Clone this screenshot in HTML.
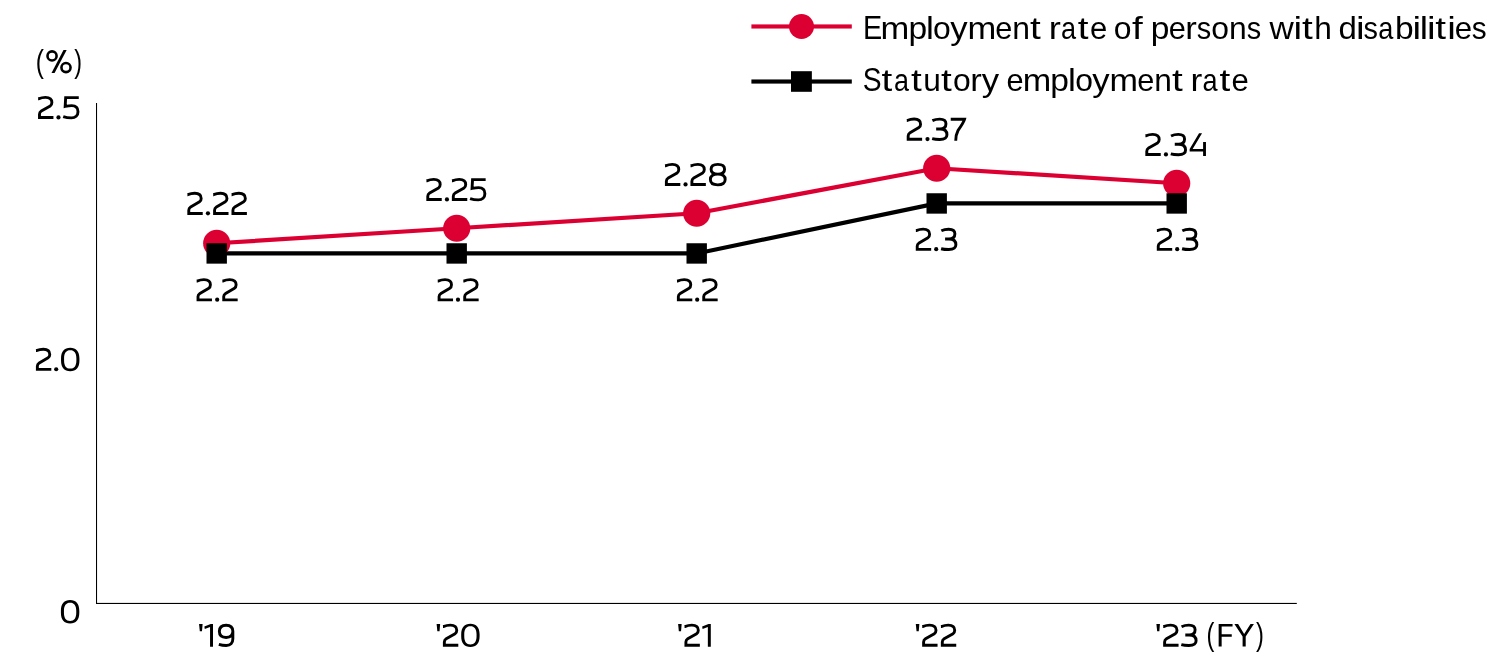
<!DOCTYPE html>
<html>
<head>
<meta charset="utf-8">
<title>Employment rate of persons with disabilities</title>
<style>
  html, body { margin: 0; padding: 0; background: #ffffff; }
  body { width: 1500px; height: 670px; overflow: hidden; }
  svg { display: block; will-change: transform; }
  text { font-family: "Liberation Sans", sans-serif; fill: #000000; }
  .num text { font-size: 32.0px; }
  .leg text { font-size: 32.0px; }
  #labels-text text { fill: none; stroke: none; }
</style>
</head>
<body>
<svg width="1500" height="670" viewBox="0 0 1500 670" role="img" aria-label="Line chart: employment rate of persons with disabilities versus statutory employment rate, FY2019-FY2023">
  <rect x="0" y="0" width="1500" height="670" fill="#ffffff"/>

  <defs>
    <g id="g2"><g transform="translate(0.25,0)"><path d="M0.1,-20.2 h0.3 C2.7,-21.15 4.9,-21.65 7.4,-21.65 C11.6,-21.65 13.85,-19.7 13.85,-16.45 C13.85,-14.7 13.3,-13.75 12.2,-13.1 L3.3,-7.9 C2,-7.1 1.45,-6.2 1.45,-4.7 L1.45,-1.45 L15.4,-1.45" fill="none" stroke="#000000" stroke-width="2.9" stroke-linejoin="miter" stroke-linecap="butt"/></g></g>
    <g id="g0"><g><path d="M0,-12.4 C0,-19.6 3.3,-23.1 9.2,-23.1 C15.1,-23.1 18.4,-19.6 18.4,-12.4 V-10.4 C18.4,-3.2 15.1,0.3 9.2,0.3 C3.3,0.3 0,-3.2 0,-10.4 Z M3.05,-12.4 V-10.4 C3.05,-4.9 5.2,-2.25 9.2,-2.25 C13.2,-2.25 15.35,-4.9 15.35,-10.4 V-12.4 C15.35,-17.9 13.2,-20.55 9.2,-20.55 C5.2,-20.55 3.05,-17.9 3.05,-12.4 Z" fill="#000000" fill-rule="evenodd"/></g></g>
    <g id="g5"><g><path d="M15.67,-21.4 L2.56,-21.4 L2.07,-12.6 C4.5,-13.1 6.5,-13.4 8.6,-13.4 C12.8,-13.4 14.9,-10.8 14.9,-7.3 C14.9,-3.4 12.3,-1.1 8.3,-1.1 C5.2,-1.1 2.5,-1.6 0.1,-2.45" fill="none" stroke="#000000" stroke-width="2.9" stroke-linejoin="miter" stroke-linecap="butt"/></g></g>
    <g id="g3"><g transform="translate(0.2,0)"><path d="M0.35,-20.05 C2.5,-21.1 5,-21.62 7.7,-21.62 C11.6,-21.62 13.9,-19.95 13.9,-17 C13.9,-13.6 11.5,-11.75 8,-11.75 L4.1,-11.75 M8,-11.75 C12.4,-11.75 14.9,-9.5 14.9,-5.95 C14.9,-2.75 12,-1.25 7.7,-1.25 C5,-1.25 2.3,-1.45 0.1,-2.05" fill="none" stroke="#000000" stroke-width="2.9" stroke-linejoin="miter" stroke-linecap="butt"/></g></g>
    <g id="g7"><g><path d="M0,-21.4 L13.85,-21.4 C13.3,-19 9,-12.6 7.2,-10 C5.77,-7.36 5,-3.5 5,0" fill="none" stroke="#000000" stroke-width="2.9" stroke-linejoin="miter" stroke-linecap="butt"/></g></g>
    <g id="g4"><g><path d="M0.15,-6.9 L9.55,-22.75 L12.55,-22.75 L3.15,-6.9 L13.6,-6.9 L13.6,-13.9 L16.45,-13.9 L16.45,0 L13.6,0 L13.6,-4.5 L0.15,-4.5 Z" fill="#000000"/></g></g>
    <g id="g8"><g><path d="M9,-21.65 C13.39,-21.65 15.75,-19.94 15.75,-16.75 C15.75,-13.56 13.39,-11.85 9,-11.85 C4.61,-11.85 2.25,-13.56 2.25,-16.75 C2.25,-19.94 4.61,-21.65 9,-21.65 Z M8.95,-11.85 C13.76,-11.85 16.35,-9.98 16.35,-6.5 C16.35,-3.02 13.76,-1.15 8.95,-1.15 C4.14,-1.15 1.55,-3.02 1.55,-6.5 C1.55,-9.98 4.14,-11.85 8.95,-11.85 Z" fill="none" stroke="#000000" stroke-width="2.9" stroke-linejoin="miter" stroke-linecap="butt"/></g></g>
    <g id="g9"><g><path d="M15,-15.42 C15,-11.38 12.71,-9.3 8.25,-9.3 C3.79,-9.3 1.5,-11.38 1.5,-15.42 C1.5,-19.46 3.79,-21.55 8.25,-21.55 C12.71,-21.55 15,-19.46 15,-15.42 L15,-8 C15,-3.4 12.6,-1.3 8.4,-1.3 C5.6,-1.3 3.2,-1.75 1,-2.45" fill="none" stroke="#000000" stroke-width="2.9" stroke-linejoin="miter" stroke-linecap="butt"/></g></g>
    <g id="gdot"><g><circle cx="0" cy="-1.6" r="2.1" fill="#000000"/></g></g>
  </defs>

  <!-- axes -->
  <g id="axes" fill="#000000">
    <rect x="96" y="103" width="1.05" height="500.95"/>
    <rect x="96" y="602.9" width="1200.8" height="1.1"/>
  </g>

  <!-- series lines -->
  <g id="lines" fill="none" stroke-linejoin="miter" stroke-linecap="butt">
    <polyline points="216.7,243.25 456.7,228.25 696.7,213.25 936.7,168.25 1176.7,183.25" stroke="#dc0032" stroke-width="4.2"/>
    <polyline points="216.7,253.45 456.7,253.45 696.7,253.45 936.7,203.45 1176.7,203.45" stroke="#000000" stroke-width="4.2"/>
  </g>

  <!-- markers -->
  <g id="markers">
    <circle cx="216.7" cy="243.25" r="13.6" fill="#dc0032"/>
    <circle cx="456.7" cy="228.25" r="13.6" fill="#dc0032"/>
    <circle cx="696.7" cy="213.25" r="13.6" fill="#dc0032"/>
    <circle cx="936.7" cy="168.25" r="13.6" fill="#dc0032"/>
    <circle cx="1176.7" cy="183.25" r="13.6" fill="#dc0032"/>
    <rect x="206.50" y="243.25" width="20.4" height="20.4" fill="#000000"/>
    <rect x="446.50" y="243.25" width="20.4" height="20.4" fill="#000000"/>
    <rect x="686.50" y="243.25" width="20.4" height="20.4" fill="#000000"/>
    <rect x="926.50" y="193.25" width="20.4" height="20.4" fill="#000000"/>
    <rect x="1166.50" y="193.25" width="20.4" height="20.4" fill="#000000"/>
  </g>

  <!-- numeric labels (axis ticks, years, data values) -->
  <g id="numbers" class="num">
    <text id="t_pct_l" transform="matrix(0.7636 0 0 0.9866 35.87 71.74)">(</text>
    <text id="t_pct_r" transform="matrix(0.7294 0 0 0.9866 74.32 71.74)">)</text>
    <text id="t_fy_l" transform="matrix(0.7394 0 0 0.9983 1206.52 645.41)">(</text>
    <text id="t_fy_r" transform="matrix(0.7412 0 0 0.9983 1255.91 645.41)">)</text>
  </g>

  <!-- hand-drawn glyphs: apostrophes and the footless digit 1 -->
  <g id="glyphs">
    <polygon points="199.05,624.05 202.60,624.05 202.00,631.15 199.80,631.15" fill="#000000"/>
    <polygon points="436.60,624.05 440.15,624.05 439.55,631.15 437.35,631.15" fill="#000000"/>
    <polygon points="678.10,624.05 681.65,624.05 681.05,631.15 678.85,631.15" fill="#000000"/>
    <polygon points="915.80,624.05 919.35,624.05 918.75,631.15 916.55,631.15" fill="#000000"/>
    <polygon points="1156.40,624.05 1159.95,624.05 1159.35,631.15 1157.15,631.15" fill="#000000"/>
    <polygon points="213.00,624.00 213.00,646.80 210.05,646.80 210.05,626.90 204.80,628.90 204.35,626.40 210.70,624.00" fill="#000000"/>
    <polygon points="710.80,624.00 710.80,646.80 707.85,646.80 707.85,626.90 702.60,628.90 702.15,626.40 708.50,624.00" fill="#000000"/>
    <circle cx="52.04" cy="55.89" r="4.55" fill="none" stroke="#000000" stroke-width="2.6"/>
    <circle cx="65.99" cy="67.61" r="4.55" fill="none" stroke="#000000" stroke-width="2.6"/>
    <polygon points="63.5,50.03 66.68,50.03 54.58,73.03 51.5,73.03" fill="#000000"/>
    <polygon points="1218.65,624.1 1232.55,624.1 1232.55,626.6 1221.65,626.6 1221.65,634.25 1231.75,634.25 1231.75,636.75 1221.65,636.75 1221.65,646.6 1218.65,646.6" fill="#000000"/>
    <polygon points="1234.4,624.1 1238.1,624.1 1244.15,634.1 1250.5,624.1 1253.9,624.1 1245.7,636.6 1245.7,646.6 1242.6,646.6 1242.6,636.6" fill="#000000"/>
  </g>

  <!-- digit glyph instances -->
  <g id="digits">
    <!-- y-axis 2.5 -->
    <use href="#g2" x="37.78" y="119.00"/>
    <use href="#gdot" x="58.47" y="119.00"/>
    <use href="#g5" x="63.10" y="119.00"/>
    <!-- y-axis 2.0 -->
    <use href="#g2" x="35.66" y="370.85"/>
    <use href="#gdot" x="56.20" y="370.85"/>
    <use href="#g0" x="61.03" y="370.85"/>
    <!-- y-axis 0 -->
    <use href="#g0" x="60.90" y="623.20"/>
    <!-- '19 -->
    <use href="#g9" x="217.85" y="646.75"/>
    <!-- '20 -->
    <use href="#g2" x="442.65" y="646.75"/>
    <use href="#g0" x="461.20" y="646.75"/>
    <!-- '21 -->
    <use href="#g2" x="684.20" y="646.75"/>
    <!-- '22 -->
    <use href="#g2" x="921.90" y="646.75"/>
    <use href="#g2" x="940.60" y="646.75"/>
    <!-- '23 -->
    <use href="#g2" x="1162.90" y="646.75"/>
    <use href="#g3" x="1181.00" y="646.75"/>
    <!-- 2.22 -->
    <use href="#g2" x="187.08" y="214.90"/>
    <use href="#gdot" x="207.94" y="214.90"/>
    <use href="#g2" x="212.86" y="214.90"/>
    <use href="#g2" x="231.24" y="214.90"/>
    <!-- 2.25 -->
    <use href="#g2" x="426.08" y="201.00"/>
    <use href="#gdot" x="446.94" y="201.00"/>
    <use href="#g2" x="451.61" y="201.00"/>
    <use href="#g5" x="469.98" y="201.00"/>
    <!-- 2.28 -->
    <use href="#g2" x="664.67" y="186.00"/>
    <use href="#gdot" x="685.53" y="186.00"/>
    <use href="#g2" x="690.20" y="186.00"/>
    <use href="#g8" x="708.83" y="186.00"/>
    <!-- 2.37 -->
    <use href="#g2" x="906.47" y="140.70"/>
    <use href="#gdot" x="927.48" y="140.70"/>
    <use href="#g3" x="931.85" y="140.70"/>
    <use href="#g7" x="950.73" y="140.70"/>
    <!-- 2.34 -->
    <use href="#g2" x="1145.08" y="156.00"/>
    <use href="#gdot" x="1165.94" y="156.00"/>
    <use href="#g3" x="1170.46" y="156.00"/>
    <use href="#g4" x="1189.50" y="156.00"/>
    <!-- 2.2 '19 -->
    <use href="#g2" x="196.31" y="301.30"/>
    <use href="#gdot" x="217.19" y="301.30"/>
    <use href="#g2" x="222.02" y="301.30"/>
    <!-- 2.2 '20 -->
    <use href="#g2" x="437.39" y="301.30"/>
    <use href="#gdot" x="457.98" y="301.30"/>
    <use href="#g2" x="463.00" y="301.30"/>
    <!-- 2.2 '21 -->
    <use href="#g2" x="676.65" y="301.30"/>
    <use href="#gdot" x="697.19" y="301.30"/>
    <use href="#g2" x="702.02" y="301.30"/>
    <!-- 2.3 '22 -->
    <use href="#g2" x="915.52" y="250.80"/>
    <use href="#gdot" x="936.20" y="250.80"/>
    <use href="#g3" x="940.79" y="250.80"/>
    <!-- 2.3 '23 -->
    <use href="#g2" x="1156.55" y="250.80"/>
    <use href="#gdot" x="1177.19" y="250.80"/>
    <use href="#g3" x="1181.77" y="250.80"/>
  </g>

  <!-- readable text layer (not painted: the visible glyphs above/below are positioned to the pixel) -->
  <g id="labels-text" class="num" fill="none" style="fill:none" aria-hidden="false">
    <text x="36.3" y="119.0">2.5</text>
    <text x="34.2" y="370.9">2.0</text>
    <text x="59.4" y="623.2">0</text>
    <text x="198.0" y="646.8">'19</text>
    <text x="434.1" y="646.8">'20</text>
    <text x="677.0" y="646.8">'21</text>
    <text x="913.4" y="646.8">'22</text>
    <text x="1154.4" y="646.8">'23 (FY)</text>
    <text x="185.6" y="214.9">2.22</text>
    <text x="424.6" y="201.0">2.25</text>
    <text x="663.2" y="186.0">2.28</text>
    <text x="905.0" y="140.7">2.37</text>
    <text x="1143.6" y="156.0">2.34</text>
    <text x="194.8" y="301.3">2.2</text>
    <text x="435.9" y="301.3">2.2</text>
    <text x="675.1" y="301.3">2.2</text>
    <text x="914.0" y="250.8">2.3</text>
    <text x="1155.0" y="250.8">2.3</text>
    <text x="37" y="74">(%)</text>
    <text x="865" y="38.8">Employment rate of persons with disabilities</text>
    <text x="864" y="91">Statutory employment rate</text>
  </g>

  <!-- legend -->
  <g id="legend" class="leg">
    <rect x="751.4" y="24.4" width="100.4" height="4.15" fill="#dc0032"/>
    <circle cx="801.5" cy="26.5" r="12.5" fill="#dc0032"/>
    <rect x="751.4" y="79.45" width="100.4" height="4.15" fill="#000000"/>
    <rect x="791" y="71.2" width="20.85" height="20.6" fill="#000000"/>
    <!-- Employment rate of persons with disabilities -->
    <text transform="matrix(0.8997 0 0 1.0375 862.97 38.80)">E</text>
    <text transform="matrix(1.0787 0 0 0.9906 880.61 38.80)">m</text>
    <text transform="matrix(1.0483 0 0 0.9906 908.46 38.80)">p</text>
    <text transform="matrix(1.1055 0 0 0.9906 925.91 38.80)">l</text>
    <text transform="matrix(0.9967 0 0 0.9906 932.99 38.80)">o</text>
    <text transform="matrix(1.0839 0 0 0.9906 950.13 38.80)">y</text>
    <text transform="matrix(1.0787 0 0 0.9906 967.57 38.80)">m</text>
    <text transform="matrix(0.9600 0 0 0.9906 995.20 38.80)">e</text>
    <text transform="matrix(0.9956 0 0 0.9906 1012.16 38.80)">n</text>
    <text transform="matrix(1.2086 0 0 0.9906 1030.01 38.80)">t</text>
    <text transform="matrix(1.1355 0 0 0.9906 1048.65 38.80)">r</text>
    <text transform="matrix(0.8485 0 0 0.9906 1060.94 38.80)">a</text>
    <text transform="matrix(1.2086 0 0 0.9906 1077.77 38.80)">t</text>
    <text transform="matrix(0.9707 0 0 0.9906 1089.99 38.80)">e</text>
    <text transform="matrix(0.9967 0 0 0.9906 1113.79 38.80)">o</text>
    <text transform="matrix(1.2086 0 0 0.9906 1131.98 38.80)">f</text>
    <text transform="matrix(1.0483 0 0 0.9906 1150.70 38.80)">p</text>
    <text transform="matrix(0.9600 0 0 0.9906 1168.80 38.80)">e</text>
    <text transform="matrix(1.0839 0 0 0.9906 1185.16 38.80)">r</text>
    <text transform="matrix(0.9018 0 0 0.9906 1196.70 38.80)">s</text>
    <text transform="matrix(0.9967 0 0 0.9906 1211.15 38.80)">o</text>
    <text transform="matrix(0.9956 0 0 0.9906 1228.96 38.80)">n</text>
    <text transform="matrix(0.9018 0 0 0.9906 1246.70 38.80)">s</text>
    <text transform="matrix(1.0504 0 0 0.9906 1269.44 38.80)">w</text>
    <text transform="matrix(1.2086 0 0 0.9906 1293.50 38.80)">i</text>
    <text transform="matrix(1.2086 0 0 0.9906 1301.89 38.80)">t</text>
    <text transform="matrix(0.9896 0 0 0.9906 1314.17 38.80)">h</text>
    <text transform="matrix(1.0317 0 0 0.9906 1338.55 38.80)">d</text>
    <text transform="matrix(1.2086 0 0 0.9906 1355.90 38.80)">i</text>
    <text transform="matrix(0.9018 0 0 0.9906 1363.50 38.80)">s</text>
    <text transform="matrix(0.8485 0 0 0.9906 1378.14 38.80)">a</text>
    <text transform="matrix(1.0483 0 0 0.9906 1395.10 38.80)">b</text>
    <text transform="matrix(1.2086 0 0 0.9906 1412.54 38.80)">i</text>
    <text transform="matrix(1.1636 0 0 0.9906 1419.78 38.80)">l</text>
    <text transform="matrix(1.2086 0 0 0.9906 1426.94 38.80)">i</text>
    <text transform="matrix(1.2086 0 0 0.9906 1435.21 38.80)">t</text>
    <text transform="matrix(1.2086 0 0 0.9906 1447.22 38.80)">i</text>
    <text transform="matrix(0.9760 0 0 0.9906 1454.78 38.80)">e</text>
    <text transform="matrix(0.9309 0 0 0.9906 1471.87 38.80)">s</text>
    <!-- Statutory employment rate -->
    <text transform="matrix(0.8819 0 0 1.0375 862.83 91.00)">S</text>
    <text transform="matrix(1.2086 0 0 0.9906 881.61 91.00)">t</text>
    <text transform="matrix(0.8420 0 0 0.9906 893.88 91.00)">a</text>
    <text transform="matrix(1.2086 0 0 0.9906 911.05 91.00)">t</text>
    <text transform="matrix(0.9891 0 0 0.9906 923.22 91.00)">u</text>
    <text transform="matrix(1.2086 0 0 0.9906 941.05 91.00)">t</text>
    <text transform="matrix(0.9967 0 0 0.9906 952.99 91.00)">o</text>
    <text transform="matrix(1.0839 0 0 0.9906 970.36 91.00)">r</text>
    <text transform="matrix(1.0839 0 0 0.9906 981.73 91.00)">y</text>
    <text transform="matrix(0.9600 0 0 0.9906 1006.40 91.00)">e</text>
    <text transform="matrix(1.0679 0 0 0.9906 1022.80 91.00)">m</text>
    <text transform="matrix(1.0483 0 0 0.9906 1050.30 91.00)">p</text>
    <text transform="matrix(1.1055 0 0 0.9906 1067.91 91.00)">l</text>
    <text transform="matrix(0.9967 0 0 0.9906 1075.15 91.00)">o</text>
    <text transform="matrix(1.0839 0 0 0.9906 1092.13 91.00)">y</text>
    <text transform="matrix(1.0679 0 0 0.9906 1109.60 91.00)">m</text>
    <text transform="matrix(0.9600 0 0 0.9906 1137.20 91.00)">e</text>
    <text transform="matrix(0.9896 0 0 0.9906 1154.17 91.00)">n</text>
    <text transform="matrix(1.2086 0 0 0.9906 1172.01 91.00)">t</text>
    <text transform="matrix(1.1045 0 0 0.9906 1190.55 91.00)">r</text>
    <text transform="matrix(0.8485 0 0 0.9906 1202.54 91.00)">a</text>
    <text transform="matrix(1.2086 0 0 0.9906 1219.61 91.00)">t</text>
    <text transform="matrix(0.9707 0 0 0.9906 1231.59 91.00)">e</text>
  </g>
</svg>
</body>
</html>
